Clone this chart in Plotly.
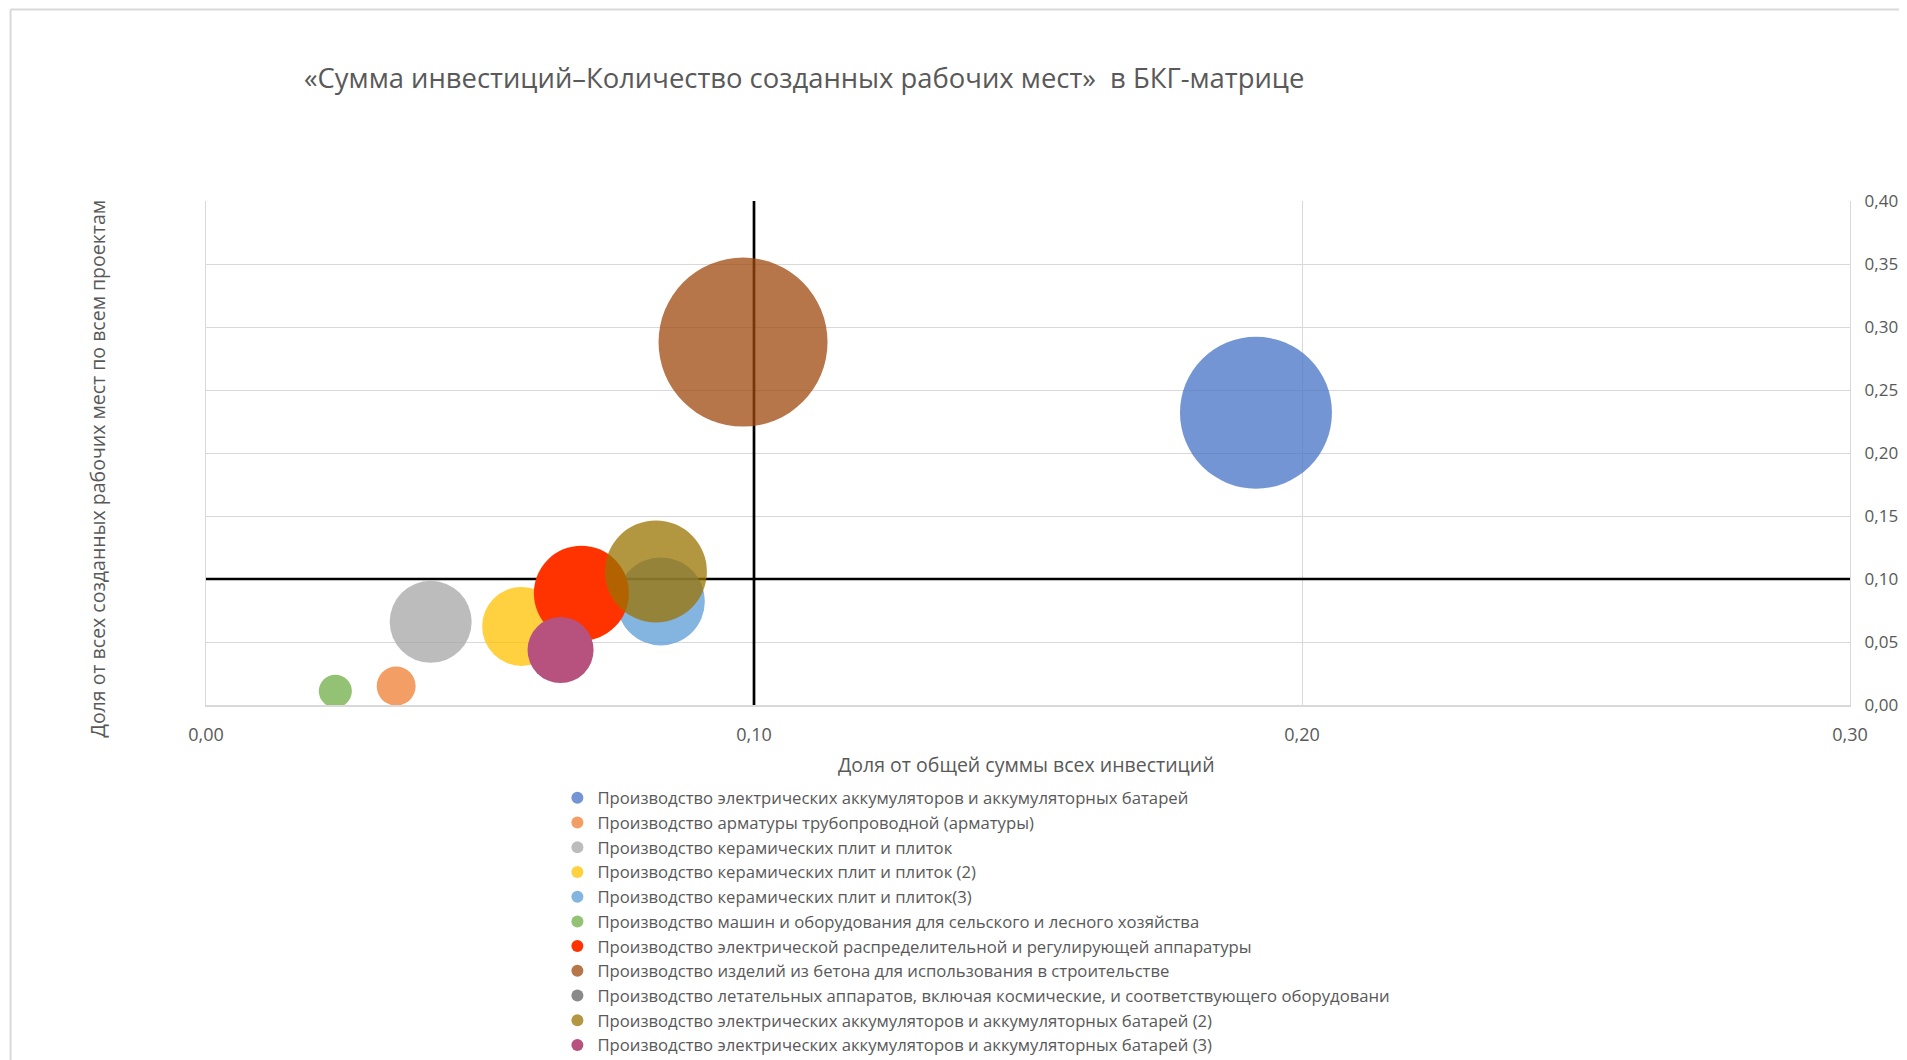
import plotly.graph_objects as go

# ---- data ----
series_names = [
    "Производство электрических аккумуляторов и аккумуляторных батарей",
    "Производство арматуры трубопроводной (арматуры)",
    "Производство керамических плит и плиток",
    "Производство керамических плит и плиток (2)",
    "Производство керамических плит и плиток(3)",
    "Производство машин и оборудования для сельского и лесного хозяйства",
    "Производство электрической распределительной и регулирующей аппаратуры",
    "Производство изделий из бетона для использования в строительстве",
    "Производство летательных аппаратов, включая космические, и соответствующего оборудовани",
    "Производство электрических аккумуляторов и аккумуляторных батарей (2)",
    "Производство электрических аккумуляторов и аккумуляторных батарей (3)",
]
invest_share = [0.1916, 0.0347, 0.0410, 0.0576, 0.0830, 0.0236, 0.0685, 0.0980, None, 0.0821, 0.0647]
jobs_share = [0.2320, 0.0150, 0.0660, 0.0624, 0.0822, 0.0110, 0.0887, 0.2880, None, 0.1060, 0.0436]
bubble_value = [23.1, 1.52, 6.72, 6.24, 7.74, 1.09, 9.03, 28.56, None, 10.4, 4.36]
threshold_x = 0.10
threshold_y = 0.10
x_ticks = [0.0, 0.1, 0.2, 0.3]
x_ticklabels = ["0,00", "0,10", "0,20", "0,30"]
y_ticks = [0.0, 0.05, 0.10, 0.15, 0.20, 0.25, 0.30, 0.35, 0.40]
y_ticklabels = ["0,00", "0,05", "0,10", "0,15", "0,20", "0,25", "0,30", "0,35", "0,40"]

# ---- styles ----
colors = ["#4472C4", "#ED7D31", "#A5A5A5", "#FFC000", "#5B9BD5", "#70AD47",
          "#FF3300", "#9E480E", "#636363", "#997300", "#B7527E"]
opacities = [0.75, 0.75, 0.75, 0.75, 0.75, 0.75, 1.0, 0.75, 0.75, 0.75, 1.0]
FONT = "Open Sans"
GREY = "#595959"
GRID = "#d9d9d9"
MAX_BUBBLE_PX = 169
LEGEND_ONLY_SIZE = 12
sizeref = 2.0 * max(v for v in bubble_value if v is not None) / (MAX_BUBBLE_PX ** 2)

OFF = 8  # page body margin
W, H = 1907 - OFF, 1060 - OFF
# plot area in screen pixels
PX0, PX1, PY0, PY1 = 205.5, 1850.0, 200.7, 705.4
L = PX0 - OFF
R = W - (PX1 - OFF)
T = PY0 - OFF
B = H - (PY1 - OFF)
plot_w = PX1 - PX0
plot_h = PY1 - PY0


def sx(px):
    return (px - PX0) / plot_w


def sy(py):
    return (PY1 - py) / plot_h


fig = go.Figure()
for i, name in enumerate(series_names):
    v = bubble_value[i]
    fig.add_trace(go.Scatter(
        x=[invest_share[i]], y=[jobs_share[i]],
        mode="markers",
        name=name,
        marker=dict(
            size=[v] if v is not None else LEGEND_ONLY_SIZE,
            sizemode="area",
            sizeref=sizeref,
            color=colors[i],
            opacity=opacities[i],
            line=dict(width=0),
        ),
    ))

fig.add_shape(type="line", xref="x", yref="y", x0=threshold_x, x1=threshold_x,
              y0=y_ticks[0], y1=y_ticks[-1], line=dict(color="black", width=2.7),
              layer="between")
fig.add_shape(type="line", xref="x", yref="y", x0=x_ticks[0], x1=x_ticks[-1],
              y0=threshold_y, y1=threshold_y, line=dict(color="black", width=2.7),
              layer="between")

# outer chart frame (partially visible in the screenshot)
fig.add_shape(type="line", xref="paper", yref="paper", x0=sx(10), x1=sx(1915),
              y0=sy(9), y1=sy(9), line=dict(color=GRID, width=2))
fig.add_shape(type="line", xref="paper", yref="paper", x0=sx(10), x1=sx(10),
              y0=sy(9), y1=sy(1070), line=dict(color=GRID, width=2))

# axis titles
fig.add_annotation(text="Доля от общей суммы всех инвестиций", xref="paper", yref="paper",
                   x=sx(1026), y=sy(765), showarrow=False,
                   xanchor="center", yanchor="middle", font=dict(family=FONT, size=19.5, color=GREY))
fig.add_annotation(text="Доля от всех созданных рабочих мест по всем проектам", xref="paper", yref="paper",
                   x=sx(97), y=sy(469), showarrow=False, textangle=-90,
                   xanchor="center", yanchor="middle", font=dict(family=FONT, size=19.5, color=GREY))

fig.update_layout(
    width=W, height=H,
    margin=dict(l=L, r=R, t=T, b=B, autoexpand=False),
    paper_bgcolor="white", plot_bgcolor="white",
    font=dict(family=FONT, color=GREY),
    title=dict(text="«Сумма инвестиций–Количество созданных рабочих мест»  в БКГ-матрице",
               xref="container", yref="container", x=(304 - OFF) / W, y=1 - (78 - OFF) / H,
               xanchor="left", yanchor="middle",
               font=dict(family=FONT, size=27.4, color=GREY)),
    xaxis=dict(range=[x_ticks[0], x_ticks[-1]], tickvals=x_ticks, ticktext=x_ticklabels,
               showgrid=True, gridcolor=GRID, gridwidth=1.3, zeroline=False,
               showline=True, linecolor=GRID, linewidth=2, mirror=False,
               ticks="outside", ticklen=12, tickcolor="rgba(0,0,0,0)",
               tickfont=dict(family=FONT, size=18, color=GREY)),
    yaxis=dict(range=[y_ticks[0], y_ticks[-1]], tickvals=y_ticks, ticktext=y_ticklabels,
               side="right", showgrid=True, gridcolor=GRID, gridwidth=1.3, zeroline=False,
               showline=True, linecolor=GRID, linewidth=1.3, mirror=True,
               ticks="outside", ticklen=10, tickcolor="rgba(0,0,0,0)",
               tickfont=dict(family=FONT, size=17, color=GREY)),
    legend=dict(x=sx(557), y=sy(781), xanchor="left", yanchor="top",
                bgcolor="rgba(0,0,0,0)", itemsizing="constant",
                font=dict(family=FONT, size=16.7, color=GREY), traceorder="normal"),
    showlegend=True,
)

fig.write_html("out.html")
